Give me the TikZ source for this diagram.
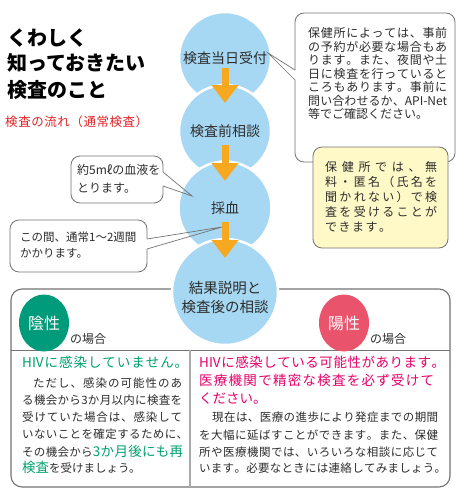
\documentclass[tikz,border=0pt]{standalone}
\usepackage{fontspec}
\setmainfont{Noto Sans CJK JP}
\usetikzlibrary{arrows.meta,calc,shapes.geometric}
\definecolor{cblue}{RGB}{166,216,243}
\definecolor{corange}{RGB}{246,168,33}
\definecolor{cgray}{RGB}{115,115,115}
\definecolor{clgray}{RGB}{170,170,170}
\definecolor{cyellow}{RGB}{255,249,200}
\definecolor{cgreen}{RGB}{0,155,122}
\definecolor{tgreen}{RGB}{0,160,110}
\definecolor{cpink}{RGB}{233,84,108}
\definecolor{tmag}{RGB}{229,0,106}
\definecolor{tred}{RGB}{226,35,40}
\definecolor{tdark}{RGB}{45,45,45}
\makeatletter
\newcommand\spr[1]{\@tfor\sprch:=#1\do{\sprch\hfil}\unskip}
\makeatother
\newcommand\jl[2]{\makebox[#1][s]{\spr{#2}}}
\newcommand\fs[1]{\fontsize{#1}{#1}\selectfont}
\begin{document}
\begin{tikzpicture}[x=1pt,y=-1pt,
  bluecirc/.style={circle, fill=cblue, draw=white, line width=2.5pt, inner sep=0pt, text=tdark, font=\fs{14}, align=center},
  flowarrow/.style={draw=corange, line width=7pt, -{Triangle[width=26pt,length=18pt]}},
  callout/.style={rectangle, draw=cgray, fill=white, rounded corners=9pt, line width=0.8pt, inner sep=0pt},
  notebox/.style={callout, fill=cyellow},
  tailline/.style={draw=cgray, line width=0.7pt},
  panel/.style={rectangle, draw=cgray, rounded corners=11pt, line width=1.1pt, inner sep=0pt},
  hdiv/.style={draw=cgray, line width=1pt},
  vdiv/.style={draw=clgray, line width=1.8pt},
  tl/.style={inner sep=0pt, anchor=base west, text=tdark},
  badge/.style={ellipse, inner sep=0pt, text=white, font=\fs{16}, minimum width=50pt, minimum height=57pt}
]
\useasboundingbox (0,0) rectangle (460,498);
\fill[white] (0,0) rectangle (460,498);

% ---- bottom panel ----
\node[panel, minimum width=439pt, minimum height=198pt] (bx) at (230.5,388) {};
\coordinate (hl) at (11,350); \coordinate (hr) at (450,350);
\coordinate (vt) at (190,350); \coordinate (vb) at (190,487);
\draw[hdiv] (hl) -- (hr);
\draw[vdiv] (vt) -- (vb);

\node[badge, fill=cgreen] (neg) at (44,323) {陰性};
\node[tl, font=\fs{12}] (negl) at (70,339+4.6) {の場合};
\node[badge, fill=cpink] (pos) at (344,323) {陽性};
\node[tl, font=\fs{12}] (posl) at (370,339+4.6) {の場合};

% left column
\node[tl, text=tgreen, font=\fs{13.5}] (g1) at (22,362+5.1) {\jl{166pt}{{HIV}に感染していません。}};
\node[tl, font=\fs{11.5}] (l1) at (33,383+4.4) {\jl{149pt}{ただし、感染の可能性のあ}};
\node[tl, font=\fs{11.5}] (l2) at (22,400+4.4) {\jl{160pt}{る機会から3か月以内に検査を}};
\node[tl, font=\fs{11.5}] (l3) at (22,417+4.4) {\jl{160pt}{受けていた場合は、感染して}};
\node[tl, font=\fs{11.5}] (l4) at (22,434+4.4) {\jl{166pt}{いないことを確定するために、}};
\node[tl, font=\fs{11.5}] (l5) at (22,452+4.4) {\makebox[161pt][s]{\spr{その機会から}\hfil{\color{tgreen}\fs{13.5}\spr{3か月後にも再}}}};
\node[tl, font=\fs{11.5}] (l6) at (22,468+4.4) {{\color{tgreen}\fs{13.5}検査}を受けましょう。};

% right column
\node[tl, text=tmag, font=\fs{13.5}] (m1) at (199,362+5.1) {\jl{246pt}{{HIV}に感染している可能性があります。}};
\node[tl, text=tmag, font=\fs{13.5}] (m2) at (199,380+5.1) {\jl{235pt}{医療機関で精密な検査を必ず受けて}};
\node[tl, text=tmag, font=\fs{13.5}] (m3) at (199,398+5.1) {\jl{64pt}{ください。}};
\node[tl, font=\fs{11.5}] (r1) at (212,417+4.4) {\jl{226pt}{現在は、医療の進歩により発症までの期間}};
\node[tl, font=\fs{11.5}] (r2) at (199,435+4.4) {\jl{239pt}{を大幅に延ばすことができます。また、保健}};
\node[tl, font=\fs{11.5}] (r3) at (199,452+4.4) {\jl{239pt}{所や医療機関では、いろいろな相談に応じて}};
\node[tl, font=\fs{11.5}] (r4) at (199,468+4.4) {\jl{247pt}{います。必要なときには連絡してみましょう。}};

% ---- flow circles ----
\node[bluecirc, minimum size=92pt] (c1) at (225,58) {検査当日受付};
\node[bluecirc, minimum size=92pt] (c2) at (225,131) {検査前相談};
\node[bluecirc, minimum size=93pt] (c3) at (225,208) {採血};
\node[bluecirc, minimum size=106pt] (c4) at (225,292) {};
\node[inner sep=0pt, align=center, text=tdark, font=\fontsize{14.5}{19}\selectfont] (c4t) at (225,298) {結果説明と\\検査後の相談};

\draw[flowarrow] ($(c1.center)+(0,10)$) -- ($(c2.center)+(0,-28)$);
\draw[flowarrow] ($(c2.center)+(0,14)$) -- ($(c3.center)+(0,-27)$);
\draw[flowarrow] ($(c3.center)+(0,14)$) -- ($(c4.center)+(0,-34)$);

% ---- callout 1 ----
\node[callout, minimum width=160pt, minimum height=149pt] (b1) at (375,87.5) {};
\coordinate (b1a) at (295,70); \coordinate (b1b) at (295,80); \coordinate (b1tip) at (268,53);
\draw[white, line width=1.6pt] (b1a) -- (b1b);
\draw[tailline] (b1a) -- (b1tip) -- (b1b);
\foreach \yy/\txt [count=\i] in {
  33/{\jl{139pt}{保健所によっては、事前}},
  46.5/{\jl{139pt}{の予約が必要な場合もあ}},
  60/{\jl{139pt}{ります。また、夜間や土}},
  73.5/{\jl{139pt}{日に検査を行っていると}},
  87/{\jl{139pt}{ころもあります。事前に}},
  100.5/{\jl{139pt}{問い合わせるか、{API-Net}}},
  114/{等でご確認ください。}}
  \node[tl, font=\fs{12}] (ta\i) at (308,\yy+4.6) {\txt};

% ---- yellow note ----
\node[notebox, minimum width=135pt, minimum height=101pt] (b4) at (380.5,197.5) {};
\foreach \yy/\txt [count=\i] in {
  167/{\jl{112pt}{保健所では、無}},
  182/{\jl{112pt}{料・匿名（氏名を}},
  197/{\jl{112pt}{聞かれない）で検}},
  212/{\jl{112pt}{査を受けることが}},
  227/{\jl{66pt}{できます。}}}
  \node[tl, font=\fs{12}] (td\i) at (325,\yy+4.6) {\txt};

% ---- callout 2 ----
\node[callout, minimum width=92pt, minimum height=47pt] (b2) at (117,179.5) {};
\coordinate (b2a) at (163,172); \coordinate (b2b) at (163,186); \coordinate (b2tip) at (192,196);
\draw[white, line width=1.6pt] (b2a) -- (b2b);
\draw[tailline] (b2a) -- (b2tip) -- (b2b);
\node[tl, font=\fs{12}] (tb1) at (77,170+4.6) {約5mℓの血液を};
\node[tl, font=\fs{12}] (tb2) at (77,188+4.6) {とります。};

% ---- callout 3 ----
\node[callout, minimum width=137pt, minimum height=52pt] (b3) at (78.5,246) {};
\coordinate (b3a) at (147,239); \coordinate (b3b) at (147,249); \coordinate (b3tip) at (222,227);
\draw[white, line width=1.6pt] (b3a) -- (b3b);
\draw[tailline] (b3a) -- (b3tip) -- (b3b);
\node[tl, font=\fs{11.5}] (tc1) at (20,237+4.4) {この間、通常1〜2週間};
\node[tl, font=\fs{11.5}] (tc2) at (20,253+4.4) {かかります。};

% ---- title ----
\node[tl, text=black, font=\fs{20}\bfseries] (ti1) at (7,37.5+7.6) {くわしく};
\node[tl, text=black, font=\fs{20}\bfseries] (ti2) at (7,63+7.6) {知っておきたい};
\node[tl, text=black, font=\fs{20}\bfseries] (ti3) at (7,90+7.6) {検査のこと};
\node[tl, text=tred, font=\fs{12.5}] (sub) at (5,122+4.8) {\jl{143pt}{検査の流れ（通常検査）}};
\end{tikzpicture}
\end{document}
